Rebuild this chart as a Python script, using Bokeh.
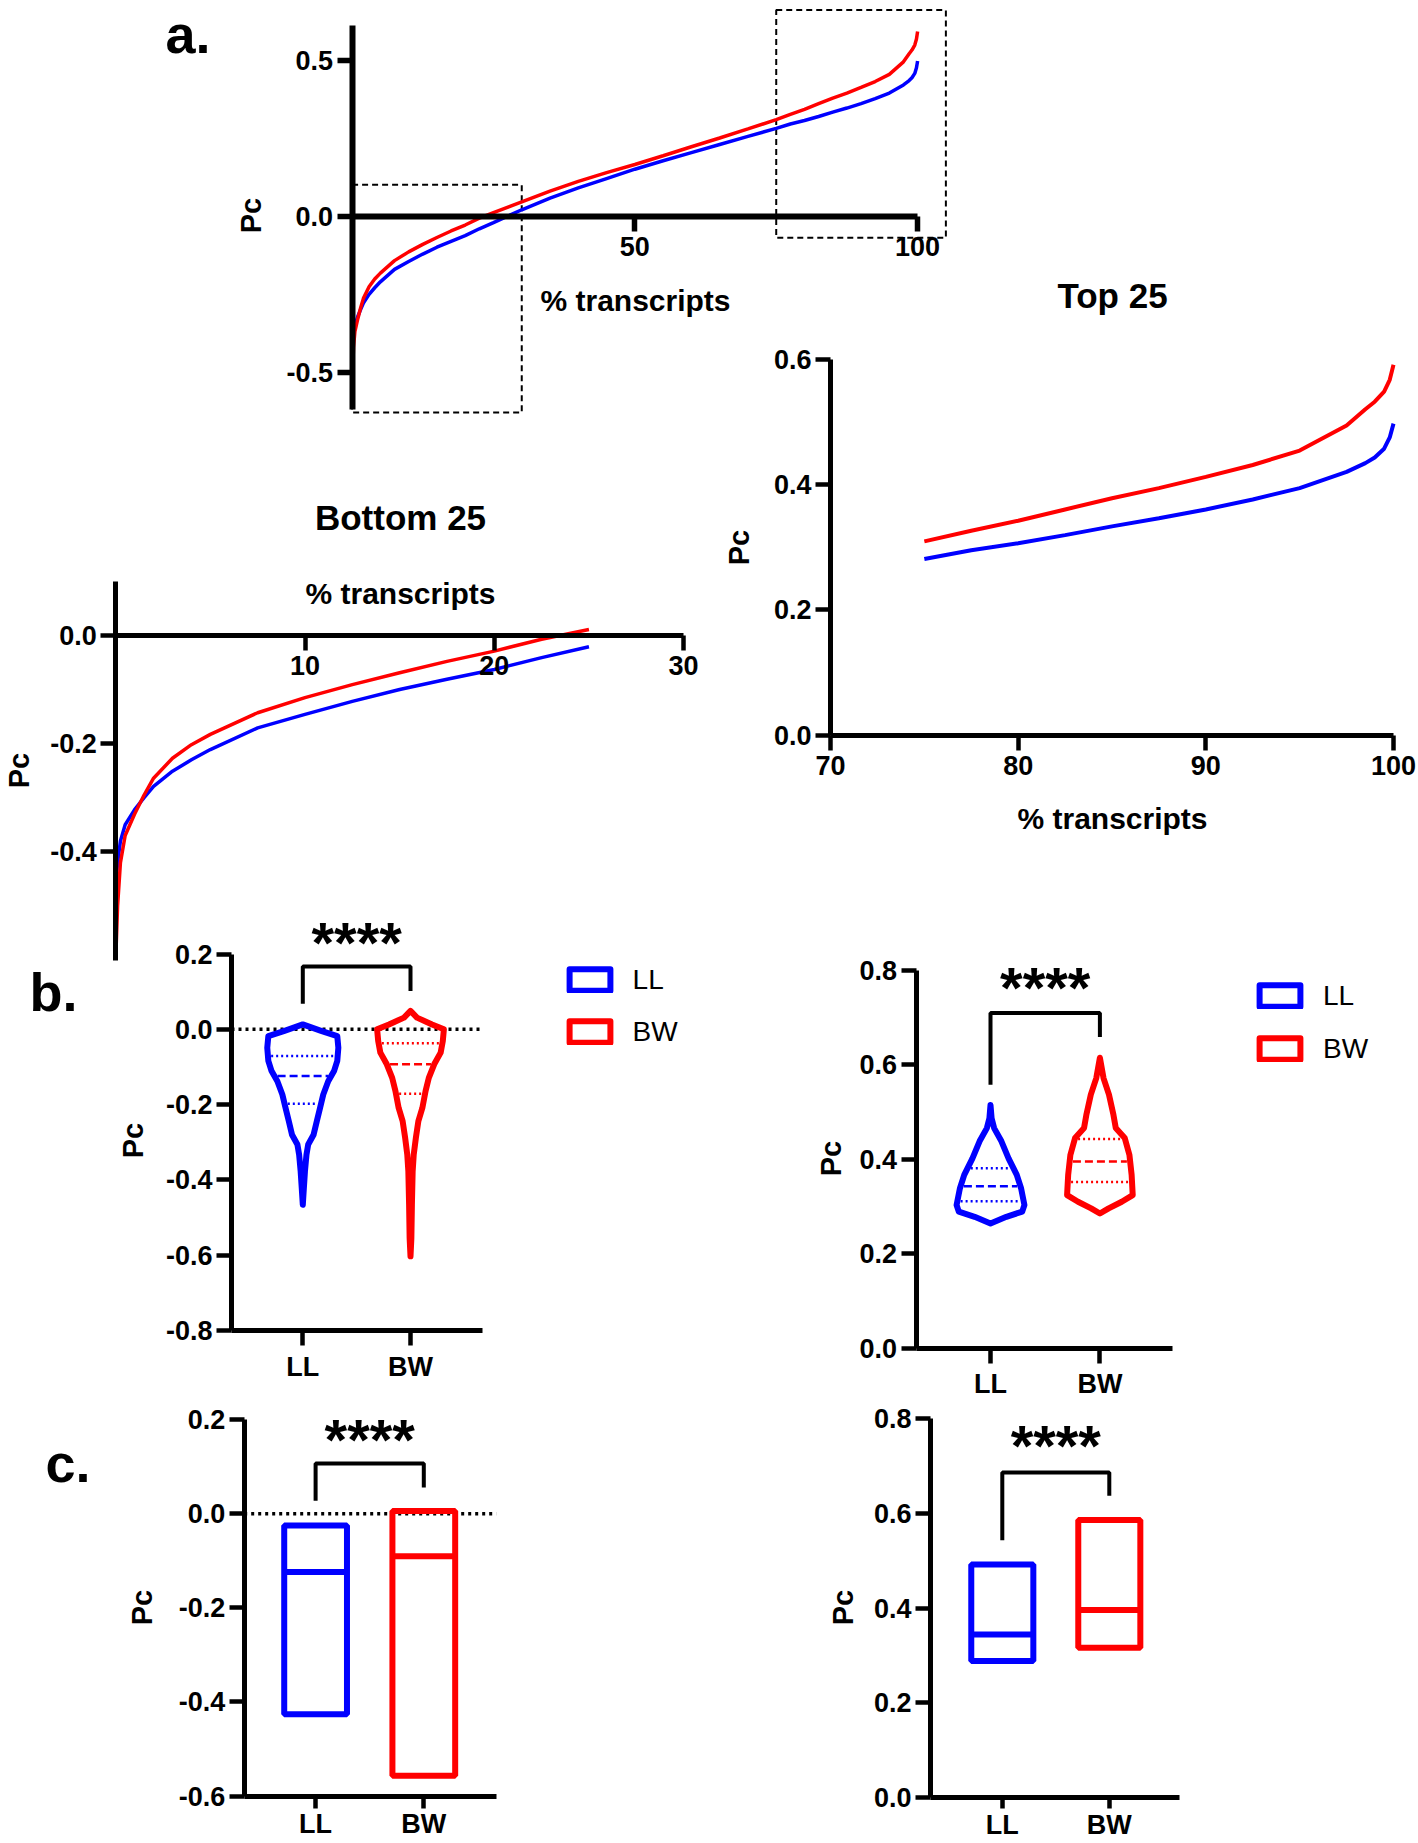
import numpy as np
from bokeh.plotting import figure
from bokeh.models import (Range1d, LinearAxis, FixedTicker, NumeralTickFormatter,
                          Label, Legend, LegendItem)
from bokeh.core.properties import value
from bokeh.embed import file_html
from bokeh.resources import INLINE

# ---------------- data ----------------
# panel a: sorted Pc vs % transcripts
pct = [0, 0.1, 0.25, 0.5, 1, 1.5, 2, 3, 4, 5, 7.5, 10, 12.5, 15, 17.5, 20, 22.5, 25,
       30, 35, 40, 45, 50, 55, 60, 65, 70, 75, 77.5, 80, 82.5, 85, 87.5, 90, 92.5,
       95, 97.5, 98.5, 99, 99.5, 99.8, 100]
ll_pc = [-0.46, -0.42, -0.38, -0.35, -0.322, -0.30, -0.279, -0.251, -0.23, -0.211,
         -0.171, -0.146, -0.122, -0.100, -0.081, -0.063, -0.041, -0.021,
         0.02, 0.057, 0.09, 0.12, 0.15, 0.177, 0.203, 0.229, 0.255, 0.281,
         0.295, 0.306, 0.319, 0.333, 0.346, 0.360, 0.376, 0.394, 0.420,
         0.434, 0.443, 0.457, 0.475, 0.497]
bw_pc = [-0.60, -0.50, -0.42, -0.37, -0.33, -0.295, -0.264, -0.227, -0.202, -0.183,
         -0.143, -0.115, -0.091, -0.069, -0.048, -0.029, -0.007, 0.011,
         0.045, 0.08, 0.111, 0.139, 0.165, 0.193, 0.222, 0.25, 0.279, 0.309,
         0.326, 0.342, 0.360, 0.378, 0.394, 0.412, 0.431, 0.454, 0.494,
         0.520, 0.532, 0.548, 0.567, 0.591]
zoom_left = [0, 75]
zoom_right = [30, 105]
zoom_bottom = [-0.63, -0.07]
zoom_top = [0.10, 0.66]
bottom_limit = 25
top_limit = 75

groups = ["LL", "BW"]
group_pos = [1, 2]

# panel b (bottom 25): violin profiles (Pc, half width)
vb_ll_y = [0.013, -0.004, -0.018, -0.049, -0.084, -0.111, -0.138, -0.173, -0.209,
           -0.244, -0.28, -0.306, -0.333, -0.377, -0.421, -0.466]
vb_ll_w = [0.0, 0.17, 0.32, 0.33, 0.32, 0.29, 0.236, 0.19, 0.16, 0.13, 0.10, 0.05,
           0.034, 0.02, 0.01, 0.0]
vb_bw_y = [0.049, 0.031, 0.013, 0.0, -0.031, -0.062, -0.093, -0.129, -0.164, -0.209,
           -0.244, -0.288, -0.333, -0.377, -0.466, -0.555, -0.603]
vb_bw_w = [0.0, 0.06, 0.2, 0.31, 0.30, 0.28, 0.22, 0.17, 0.14, 0.11, 0.073, 0.05,
           0.03, 0.02, 0.013, 0.008, 0.0]
vb_ll_q = [-0.071, -0.124, -0.198]
vb_bw_q = [-0.037, -0.093, -0.171]
# panel b (top 25)
vt_ll_y = [0.515, 0.487, 0.466, 0.438, 0.402, 0.367, 0.338, 0.303, 0.289, 0.278, 0.264]
vt_ll_w = [0.0, 0.01, 0.033, 0.10, 0.165, 0.24, 0.28, 0.31, 0.29, 0.145, 0.0]
vt_bw_y = [0.615, 0.572, 0.537, 0.494, 0.466, 0.445, 0.409, 0.367, 0.324, 0.310, 0.296, 0.285]
vt_bw_w = [0.0, 0.033, 0.083, 0.124, 0.145, 0.227, 0.27, 0.29, 0.30, 0.2, 0.08, 0.0]
vt_ll_q = [0.381, 0.343, 0.311]
vt_bw_q = [0.443, 0.395, 0.352]

# panel c: floating bars (min, max, median)
cb_min = [-0.426, -0.557]
cb_max = [-0.025, 0.006]
cb_med = [-0.124, -0.090]
ct_min = [0.288, 0.316]
ct_max = [0.492, 0.586]
ct_med = [0.344, 0.396]

# significance brackets: (LL leg end, top, BW leg end, star level)
sig_b_bottom = [0.068, 0.167, 0.102, 0.23]
sig_b_top = [0.558, 0.71, 0.659, 0.763]
sig_c_bottom = [0.028, 0.107, 0.056, 0.159]
sig_c_top = [0.543, 0.686, 0.637, 0.742]

# ---------------- layout / style ----------------
BLUE = "#0000FF"
RED = "#FF0000"
FONT = "Liberation Sans"
W, H = 1418, 1843
X0, Y0 = 0, 0

p = figure(width=W, height=H, x_range=Range1d(X0, X0 + W), y_range=Range1d(Y0 + H, Y0),
           x_axis_type=None, y_axis_type=None, toolbar_location=None,
           output_backend="svg", min_border=0, outline_line_color=None)


def panel(name, xd, xp, yd, yp):
    kx = (xd[1] - xd[0]) / (xp[1] - xp[0])
    ky = (yd[1] - yd[0]) / (yp[1] - yp[0])
    p.extra_x_ranges[name + "x"] = Range1d(xd[0] + (X0 - xp[0]) * kx,
                                           xd[0] + (X0 + W - xp[0]) * kx)
    p.extra_y_ranges[name + "y"] = Range1d(yd[0] + (Y0 + H - yp[0]) * ky,
                                           yd[0] + (Y0 - yp[0]) * ky)
    return dict(x_range_name=name + "x", y_range_name=name + "y")


def axes(r, x_at, y_at, xb, yb, xt, yt, xfmt="0", yfmt="0.0", xover=None, lw=5,
         xtick=15, xstand=6):
    common = dict(axis_line_width=lw, major_tick_line_width=lw - 0.5,
                  major_tick_in=0, minor_tick_line_color=None,
                  axis_line_color="black", major_tick_line_color="black",
                  major_label_text_color="black",
                  major_label_text_font=FONT, major_label_text_font_style="bold",
                  major_label_text_font_size="27px")
    xa = LinearAxis(fixed_location=x_at, bounds=xb,
                    ticker=FixedTicker(ticks=xt, minor_ticks=[]),
                    major_tick_out=xtick, major_label_standoff=xstand, **r, **common)
    if xover:
        xa.major_label_overrides = xover
    else:
        xa.formatter = NumeralTickFormatter(format=xfmt)
    p.add_layout(xa, "below")
    ya = LinearAxis(fixed_location=y_at, bounds=yb,
                    ticker=FixedTicker(ticks=yt, minor_ticks=[]),
                    formatter=NumeralTickFormatter(format=yfmt),
                    major_tick_out=15, major_label_standoff=4, **r, **common)
    p.add_layout(ya, "left")


def lab(x, y, text, size, angle=0.0, style="bold", align="center", baseline="middle"):
    p.add_layout(Label(x=x, y=y, text=text, text_font=FONT, text_font_style=style,
                       text_font_size=f"{size}px", angle=angle, text_align=align,
                       text_baseline=baseline, text_color="black"))


PI2 = np.pi / 2
pct_a = np.array(pct)
ll_a = np.array(ll_pc)
bw_a = np.array(bw_pc)

# ---- panel a ----
ra = panel("a", (0, 100), (351.6, 917.1), (0, 0.5), (215.5, 59.5))
p.quad(left=zoom_left, right=zoom_right, bottom=zoom_bottom, top=zoom_top,
       fill_color=None, line_color="black", line_dash="6 4", line_width=2, **ra)
p.line(pct, ll_pc, line_color=BLUE, line_width=3.5, **ra)
p.line(pct, bw_pc, line_color=RED, line_width=3.5, **ra)
axes(ra, 0, 0, (0, 100), (-0.62, 0.61), [50, 100], [-0.5, 0, 0.5], lw=6)
lab(165, 33, "a.", 54, align="left", baseline="alphabetic")
lab(250, 215, "Pc", 29, angle=PI2)
lab(635, 300, "% transcripts", 30)

# ---- bottom 25 ----
rb = panel("b25", (0, 30), (115.2, 683.1), (0, -0.4), (634.9, 851.3))
mb = pct_a <= bottom_limit
p.line(pct_a[mb], ll_a[mb], line_color=BLUE, line_width=3.5, **rb)
p.line(pct_a[mb], bw_a[mb], line_color=RED, line_width=3.5, **rb)
axes(rb, 0, 0, (0, 30), (-0.6, 0.1), [10, 20, 30], [-0.4, -0.2, 0.0])
lab(400, 517, "Bottom 25", 35)
lab(400, 593, "% transcripts", 30)
lab(18, 770, "Pc", 29, angle=PI2)

# ---- top 25 ----
rt = panel("t25", (70, 100), (830.0, 1393.0), (0, 0.6), (734.5, 358.6))
mt = pct_a >= top_limit
p.line(pct_a[mt], ll_a[mt], line_color=BLUE, line_width=4, **rt)
p.line(pct_a[mt], bw_a[mt], line_color=RED, line_width=4, **rt)
axes(rt, 0, 70, (70, 100), (0, 0.6), [70, 80, 90, 100], [0, 0.2, 0.4, 0.6])
lab(1112, 295, "Top 25", 35)
lab(1112, 818, "% transcripts", 30)
lab(738, 547, "Pc", 29, angle=PI2)


def violin(r, c, ys, ws, q, color):
    ys = np.array(ys)
    ws = np.array(ws)
    xs = np.concatenate([c + ws, (c - ws)[::-1]])
    yy = np.concatenate([ys, ys[::-1]])
    pr = p.patch(xs, yy, fill_color=None, line_color=color, line_width=6,
                 line_join="round", **r)
    order = np.argsort(ys)
    for val, dash in zip(q, ["2 3", "8 4", "2 3"]):
        hw = np.interp(val, ys[order], ws[order]) - 0.03
        p.line([c - hw, c + hw], [val, val], line_color=color, line_width=2.5,
               line_dash=dash, **r)
    return pr


def bracket(r, s):
    p.line([group_pos[0], group_pos[0], group_pos[1], group_pos[1]],
           [s[0], s[1], s[1], s[2]], line_color="black", line_width=4, **r)
    p.text(x=[(group_pos[0] + group_pos[1]) / 2], y=[s[3]], text=["****"],
           text_font=value(FONT), text_font_style="bold", text_font_size="58px",
           text_align="center", text_baseline="middle", text_color="black", **r)


def legend(renderers, left, top, spacing):
    row = 36
    height = 2 * row + spacing
    leg = Legend(items=[LegendItem(label=g, renderers=[rr]) for g, rr in zip(groups, renderers)],
                 location=(left - X0, (Y0 + H) - (top + height)), orientation="vertical",
                 glyph_width=51, glyph_height=27, label_standoff=18, spacing=spacing,
                 padding=0, margin=0, border_line_color=None, background_fill_alpha=0,
                 label_text_font=FONT, label_text_font_size="28px",
                 label_text_color="black", label_height=row)
    p.add_layout(leg)


xlabels = {1: "LL", 2: "BW"}

# ---- b left ----
rbl = panel("bl", (1, 2), (302.3, 410.0), (0, -0.8), (1028.8, 1330.0))
p.line([0.338, 2.666], [0, 0], line_color="black", line_width=3.5, line_dash="3 4", **rbl)
v1 = violin(rbl, group_pos[0], vb_ll_y, vb_ll_w, vb_ll_q, BLUE)
v2 = violin(rbl, group_pos[1], vb_bw_y, vb_bw_w, vb_bw_q, RED)
bracket(rbl, sig_b_bottom)
axes(rbl, -0.8, 0.338, (0.338, 2.666), (-0.8, 0.2), group_pos,
     [-0.8, -0.6, -0.4, -0.2, 0.0, 0.2], xover=xlabels)
legend([v1, v2], 563.6, 961.5, 16)
lab(29, 991, "b.", 54, align="left", baseline="alphabetic")
lab(132, 1140, "Pc", 29, angle=PI2)

# ---- b right ----
rbr = panel("br", (1, 2), (990.0, 1099.4), (0, 0.8), (1347.5, 970.0))
v3 = violin(rbr, group_pos[0], vt_ll_y, vt_ll_w, vt_ll_q, BLUE)
v4 = violin(rbr, group_pos[1], vt_bw_y, vt_bw_w, vt_bw_q, RED)
bracket(rbr, sig_b_top)
axes(rbr, 0, 0.32, (0.32, 2.66), (0, 0.8), group_pos,
     [0.0, 0.2, 0.4, 0.6, 0.8], xover=xlabels)
legend([v3, v4], 1254, 977.5, 17)
lab(830, 1158, "Pc", 29, angle=PI2)

# ---- c left ----
BAR_HW = 0.29
gp = np.array(group_pos, dtype=float)
rcl = panel("cl", (1, 2), (315.1, 423.3), (0, -0.6), (1513.3, 1795.5))
p.line([0.34, 2.67], [0, 0], line_color="black", line_width=3.5, line_dash="3 4", **rcl)
p.quad(left=gp - BAR_HW, right=gp + BAR_HW, bottom=cb_min, top=cb_max,
       fill_color=None, line_color=[BLUE, RED], line_width=6, **rcl)
p.segment(x0=gp - BAR_HW, x1=gp + BAR_HW, y0=cb_med, y1=cb_med,
          line_color=[BLUE, RED], line_width=6, **rcl)
bracket(rcl, sig_c_bottom)
axes(rcl, -0.6, 0.34, (0.34, 2.67), (-0.6, 0.2), group_pos,
     [-0.6, -0.4, -0.2, 0.0, 0.2], xover=xlabels, xtick=12, xstand=1)
lab(45, 1462, "c.", 54, align="left", baseline="alphabetic")
lab(141, 1607, "Pc", 29, angle=PI2)

# ---- c right ----
rcr = panel("cr", (1, 2), (1001.8, 1108.8), (0, 0.8), (1797.0, 1418.0))
p.quad(left=gp - BAR_HW, right=gp + BAR_HW, bottom=ct_min, top=ct_max,
       fill_color=None, line_color=[BLUE, RED], line_width=6, **rcr)
p.segment(x0=gp - BAR_HW, x1=gp + BAR_HW, y0=ct_med, y1=ct_med,
          line_color=[BLUE, RED], line_width=6, **rcr)
bracket(rcr, sig_c_top)
axes(rcr, 0, 0.33, (0.33, 2.66), (0, 0.8), group_pos,
     [0.0, 0.2, 0.4, 0.6, 0.8], xover=xlabels, xtick=11, xstand=1)
lab(842, 1607, "Pc", 29, angle=PI2)

open("out.html", "w").write(file_html(p, INLINE))
